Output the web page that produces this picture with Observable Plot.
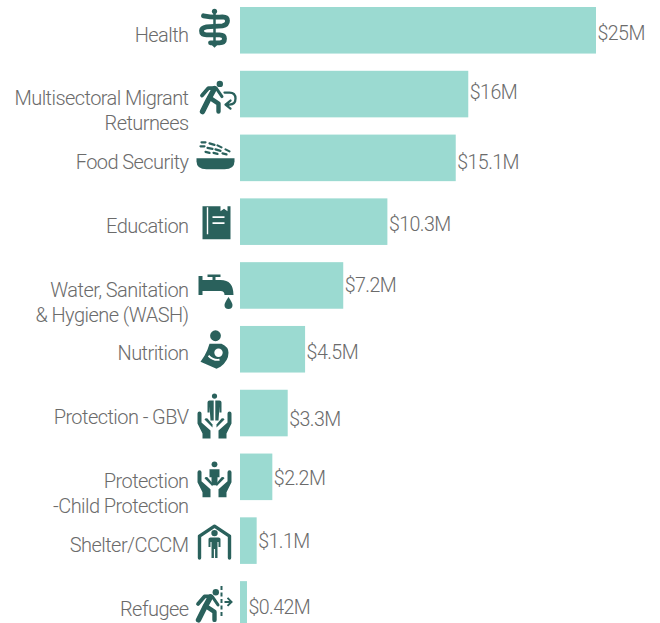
<!DOCTYPE html>
<html>
<head>
<meta charset="utf-8">
<script src="https://cdn.jsdelivr.net/npm/d3@7"></script>
<script src="https://cdn.jsdelivr.net/npm/@observablehq/plot@0.6"></script>
<style>html,body{margin:0;padding:0;background:#fff}svg{display:block}</style>
</head>
<body>
<div id="chart"></div>
<script>
const sectors = ["Health","Multisectoral Migrant\nReturnees","Food Security","Education","Water, Sanitation\n& Hygiene (WASH)","Nutrition","Protection - GBV","Protection\n-Child Protection","Shelter/CCCM","Refugee"];
// bar lengths
const funding = [25,16.03,15.15,10.35,7.25,4.57,3.35,2.27,1.17,0.49];
const fundingLabels = ["$25M","$16M","$15.1M","$10.3M","$7.2M","$4.5M","$3.3M","$2.2M","$1.1M","$0.42M"];

// layout: vertical nudge of each value label, as placed in the source graphic
const labelNudge = [3,-2,4,2.5,-0.5,3,6,1,0.4,3];

const DARK = "#2a615c";
const hands = `<g fill="${DARK}"><path d="M10 27q0-2 2-2t2 2v9l9 8v8h-8v-5l-5-10z"/><path d="M17 33q1-2 3-1l5 6v3z"/><path d="M44 27q0-2-2-2t-2 2v9l-9 8v8h8v-5l5-10z"/><path d="M37 33q-1-2-3-1l-5 6v3z"/></g>`;
const runner = `<circle cx="32.3" cy="16.3" r="3.2" fill="${DARK}"/><g fill="none" stroke="${DARK}" stroke-linecap="round" stroke-linejoin="round"><path stroke-width="3.8" d="M14.5 28L21 20.5H28"/><path stroke-width="5.4" d="M27 21L21 32L15 44"/><path stroke-width="4.4" d="M22 30L31 36V44"/><path stroke-width="3" d="M29 21L34.5 29"/></g>`;
const iconBodies = [
  `<circle cx="27" cy="7.5" r="2.6" fill="${DARK}"/><path d="M27 8V40" stroke="${DARK}" stroke-width="2.5"/><path d="M16 12Q26 14 35 13Q40 13 40 17Q40 21 35 22L19 23Q14 24 14 27Q14 31 19 31L32 31Q37 31 37 35Q37 39 32 39H23" fill="none" stroke="${DARK}" stroke-width="4.8" stroke-linecap="round"/><path d="M23 40h8l-4 4z" fill="${DARK}"/>`,
  runner + `<path d="M37 25H42Q48 25 48 31Q48 37 42 37H39M43 33L38 37L43 41" fill="none" stroke="${DARK}" stroke-width="2.3" stroke-linecap="round" stroke-linejoin="round"/>`,
  `<path d="M9 27H47V30Q47 38 37 38H19Q9 38 9 30Z" fill="${DARK}"/><path d="M14 11h4M22 12l5 1.5M30 14l4 2M38 18l4 2M13 15h4M20 16.5l5 1M28 18l5 1.5M18 20.5l4 1M26 21.5l4 1M35 22l4 1" stroke="${DARK}" stroke-width="2.2" stroke-linecap="round"/>`,
  `<path d="M15 11H33V16L36.5 13.5L40 16V11H43V44H15Z" fill="${DARK}"/><path d="M20 12V39" stroke="#fff" stroke-width="1.4"/><path d="M25 22H37M25 28H37" stroke="#fff" stroke-width="1.6"/>`,
  `<path d="M11 17h4v4H25v-3h-5v-2.5h13V18h-5v3h5Q46 21 46 36H37Q37 32 33 32H15v4h-4Z" fill="${DARK}"/><path d="M41 38Q45 44 45 46A4 4 0 0 1 37 46Q37 44 41 38Z" fill="${DARK}"/>`,
  `<circle cx="28" cy="13" r="5.4" fill="${DARK}"/><path d="M22 21H34Q41 24 41 30Q41 38 33 44L29 46L13 39L17 33Q20 28 22 21Z" fill="${DARK}"/><circle cx="31" cy="30" r="4.2" fill="#fff"/><path d="M21 33Q26 38 32 37" fill="none" stroke="#fff" stroke-width="1.8"/>`,
  hands + `<circle cx="27" cy="9.5" r="2.6" fill="${DARK}"/><path d="M26.2 14H22Q20 14 20 16V26H22V20L23 34H26.2ZM27.8 14H32Q34 14 34 16V26H32V20L31 34H27.8Z" fill="${DARK}"/>`,
  hands.replace("M10 27","M10 22").replace("M44 27","M44 22").replace("M17 33","M17 28").replace("M37 33","M37 28") + `<circle cx="27" cy="14" r="2.9" fill="${DARK}"/><path d="M22 19H32V27H30V35H24V27H22Z" fill="${DARK}"/>`,
  `<path d="M12 44V22L27 12L42 22V44" fill="none" stroke="${DARK}" stroke-width="3.4" stroke-linecap="round" stroke-linejoin="round"/><circle cx="27" cy="19" r="3.2" fill="${DARK}"/><path d="M21 25Q21 23.5 23 23.5H31Q33 23.5 33 25V33H31V28H30V44H27.6V35H26.4V44H24V28H23V33H21Z" fill="${DARK}"/>`,
  `<g transform="translate(-4 -2)">` + runner + `</g><path d="M34 8V40" stroke="${DARK}" stroke-width="2" stroke-dasharray="4 2.5"/><path d="M37 24H44M40 20L44 24L40 28" fill="none" stroke="${DARK}" stroke-width="2"/>`
];
const iconSrc = iconBodies.map(b => "data:image/svg+xml," + encodeURIComponent(`<svg xmlns="http://www.w3.org/2000/svg" viewBox="0 0 54 54" width="54" height="54">${b}</svg>`));

const rows = sectors.map((s, i) => ({sector: s, value: funding[i], label: fundingLabels[i], icon: iconSrc[i], nudge: labelNudge[i]}));
const font = "Roboto, sans-serif";

const plot = Plot.plot({
  width: 660,
  height: 623,
  margin: 0,
  style: {background: "#fff", fontFamily: font, letterSpacing: "-0.56px"},
  x: {domain: [0, 25], range: [240, 596], axis: null},
  y: {domain: sectors, range: [7, 627.7], paddingInner: 0.27, paddingOuter: 0, round: false, axis: null},
  marks: [
    Plot.barX(rows, {x: "value", y: "sector", fill: "#9bdad1"}),
    Plot.image(rows, {x: () => 0, y: "sector", src: "icon", width: 54, height: 54, dx: -26}),
    Plot.text(rows, {
      x: () => 0, y: "sector", text: "sector", dx: -52, dy: -7,
      textAnchor: "end", lineAnchor: "top", lineHeight: 1.25,
      fontSize: 20, fontWeight: 300, fill: "#6b6b6b", fontFamily: font
    }),
    ...rows.map(r => Plot.text([r], {
      x: "value", y: "sector", text: "label", dx: 1, dy: r.nudge,
      textAnchor: "start", fontSize: 19.6, fontWeight: 300, fill: "#6b6b6b", fontFamily: font
    }))
  ]
});
document.getElementById("chart").appendChild(plot);
</script>
</body>
</html>
